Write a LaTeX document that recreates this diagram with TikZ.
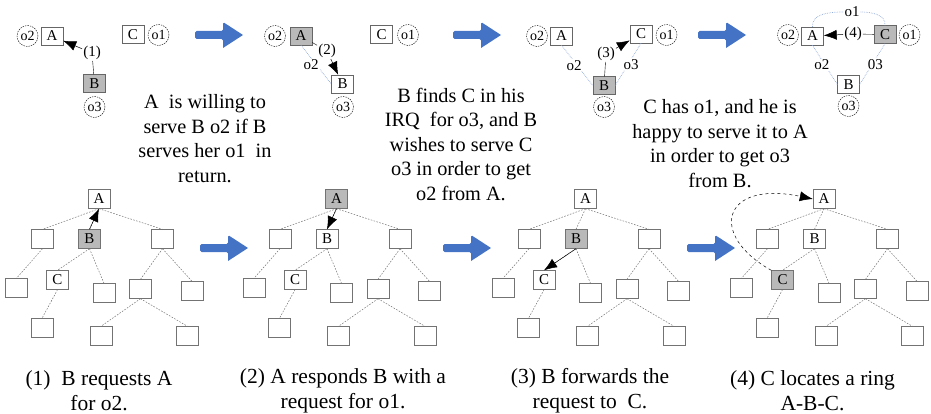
\documentclass[tikz,border=0pt]{standalone}
\usepackage{fontspec}
\setmainfont{Liberation Serif}
\usetikzlibrary{arrows.meta}

\definecolor{arrowblue}{RGB}{68,114,196}
\definecolor{linkblue}{RGB}{143,170,220}
\definecolor{peerfill}{RGB}{185,185,185}

\begin{document}
\begin{tikzpicture}[x=1pt,y=-1pt,
  peer/.style={draw=black!60, fill=white, minimum width=22pt, minimum height=18pt,
    inner sep=0pt, font=\fontsize{15}{15}\selectfont},
  busy/.style={peer, fill=peerfill},
  obj/.style={draw, dash pattern=on 1.5pt off 1pt, circle, minimum size=21pt,
    inner sep=0pt, font=\fontsize{14}{14}\selectfont},
  seqlabel/.style={inner sep=1pt, font=\fontsize{15}{15}\selectfont},
  link/.style={draw=linkblue, densely dotted, line width=0.7pt},
  linklabel/.style={fill=white, inner sep=1pt, font=\fontsize{15}{15}\selectfont},
  req/.style={-{Latex[length=13pt,width=10pt]}, line width=0.5pt},
  treebox/.style={draw=black!55, minimum width=22pt, minimum height=19pt,
    inner sep=0pt, font=\fontsize{15}{15}\selectfont},
  treeedge/.style={draw=black!55, dash pattern=on 1.6pt off 1.4pt, line width=0.5pt},
  para/.style={align=center, font=\fontsize{20.3}{24.5}\selectfont},
  capt/.style={align=center, font=\fontsize{21.5}{25}\selectfont},
  bigarrow/.pic={\fill[arrowblue, rounded corners=1.5pt]
    (0,-4) -- (28,-4) -- (28,-13) [sharp corners] -- (48,0) -- (28,13)
    [rounded corners=1.5pt] -- (28,4) -- (0,4) -- cycle;}
]
\useasboundingbox (0,0) rectangle (931,414);

% ---------- stage 1: B asks A for o2 ----------
\node[obj]  (p1o2) at (27.5,36)  {o2};
\node[peer] (p1A)  at (52,36)    {A};
\node[peer] (p1C)  at (133,34.5) {C};
\node[obj]  (p1o1) at (158.5,35) {o1};
\node[busy] (p1B)  at (94.5,83.5){B};
\node[obj]  (p1o3) at (94.5,107) {o3};
\node[seqlabel] (p1s) at (92,53) {(1)};
\draw (p1B) -- (p1s);
\draw[req] (p1s) -- (p1A);

% ---------- stage 2: A answers with a request for o1 ----------
\node[obj]  (p2o2) at (275,36)   {o2};
\node[busy] (p2A)  at (301,36)   {A};
\node[peer] (p2C)  at (381.5,34.5){C};
\node[obj]  (p2o1) at (408,35)   {o1};
\node[peer] (p2B)  at (342.5,84) {B};
\node[obj]  (p2o3) at (343,107)  {o3};
\node[seqlabel] (p2s) at (327,51) {(2)};
\draw[link] (p2A.south) -- node[linklabel, xshift=-5pt] {o2} (p2B.west);
\draw (p2A) -- (p2s);
\draw[req] (p2s) -- (p2B);

% ---------- stage 3: B forwards to C ----------
\node[obj]  (p3o2) at (537,36)   {o2};
\node[peer] (p3A)  at (561.5,36) {A};
\node[peer] (p3C)  at (641,34)   {C};
\node[obj]  (p3o1) at (666.5,35) {o1};
\node[busy] (p3B)  at (604,85.5) {B};
\node[obj]  (p3o3) at (604,107)  {o3};
\node[seqlabel] (p3s) at (606,54) {(3)};
\draw[link] (p3A.south) -- node[linklabel, xshift=-3pt] {o2} (p3B.west);
\draw[link] (p3C.south) -- node[linklabel, xshift=3pt] {o3} (p3B.east);
\draw (p3B) -- (p3s);
\draw[req] (p3s) -- (p3C);

% ---------- stage 4: C closes the ring ----------
\node[obj]  (p4o2) at (788,35)   {o2};
\node[peer] (p4A)  at (812.5,36) {A};
\node[busy] (p4C)  at (885,34.5) {C};
\node[obj]  (p4o1) at (909.5,35) {o1};
\node[peer] (p4B)  at (848.5,84.5){B};
\node[obj]  (p4o3) at (848.5,106){o3};
\node[seqlabel] (p4s) at (853,34) {(4)};
\node[linklabel] (p4top) at (852,12) {o1};
\draw[link] (p4A.south) -- node[linklabel, xshift=-3pt] {o2} (p4B.west);
\draw[link] (p4C.south) -- node[linklabel, xshift=3pt] {03} (p4B.east);
\draw[link] (p4A.north) to[out=95,in=180] (p4top.west);
\draw[link] (p4top.east) to[out=0,in=85] (p4C.north);
\draw (p4C) -- (p4s);
\draw[req] (p4s) -- (p4A);

% ---------- stage arrows ----------
\pic at (195,35)  {bigarrow};
\pic at (453,35)  {bigarrow};
\pic at (698,35)  {bigarrow};
\pic at (200,248) {bigarrow};
\pic at (443,248) {bigarrow};
\pic at (687,248) {bigarrow};

% ---------- explanations ----------
\node[para] (txt1) at (205,138.5) {A\ \ is willing to\\serve B o2 if B\\serves her o1\ \ in\\return.};
\node[para] (txt2) at (461,144) {B finds C in his\\IRQ\ \ for o3, and B\\wishes to serve C\\o3 in order to get\\o2 from A.};
\node[para] (txt3) at (720,143.75) {C has o1, and he is\\happy to serve it to A\\in order to get o3\\from B.};

% ---------- overlay trees ----------
\foreach \k/\dx/\fa/\fb/\fc in {1/0/white/peerfill/white,
                                2/237.5/peerfill/white/white,
                                3/486.5/white/peerfill/white,
                                4/725/white/white/peerfill} {
  \begin{scope}[xshift=\dx pt]
    \node[treebox, fill=\fa]   (t\k-A)  at (99,199)   {A};
    \node[treebox, fill=white] (t\k-L)  at (42.5,239) {};
    \node[treebox, fill=\fb]   (t\k-B)  at (89.5,239) {B};
    \node[treebox, fill=white] (t\k-R)  at (162.5,239){};
    \node[treebox, fill=white] (t\k-n1) at (16.5,288) {};
    \node[treebox, fill=\fc]   (t\k-C)  at (57.5,280) {C};
    \node[treebox, fill=white] (t\k-n3) at (104,293)  {};
    \node[treebox, fill=white] (t\k-n4) at (140.5,289){};
    \node[treebox, fill=white] (t\k-n5) at (192,291)  {};
    \node[treebox, fill=white] (t\k-n6) at (42,328)   {};
    \node[treebox, fill=white] (t\k-n7) at (101,336)  {};
    \node[treebox, fill=white] (t\k-n8) at (187.5,336){};
    \foreach \p/\c in {A/L, A/B, A/R, L/n1, B/C, B/n3, R/n4, R/n5, C/n6, n4/n7, n4/n8}
      \draw[treeedge] (t\k-\p.south) -- (t\k-\c.north);
  \end{scope}
}
\draw[req] (t1-B.north) -- (t1-A.south);
\draw[req] (t2-A.south) -- (t2-B.north);
\draw[req] (t3-B.south) -- (t3-C.north);
\draw[req, dashed] (t4-C.north west) .. controls (708,235) and (722,180) .. (t4-A.west);

% ---------- captions ----------
\node[capt] (cap1) at (99,390.5)  {(1)\ \ B requests A\\for o2.};
\node[capt] (cap2) at (343,390.5) {(2) A responds B with a\\request for o1.};
\node[capt] (cap3) at (590,390.5) {(3) B forwards the\\request to\ \ C.};
\node[capt] (cap4) at (812.5,390.5) {(4) C locates a ring\\A-B-C.};
\end{tikzpicture}
\end{document}
